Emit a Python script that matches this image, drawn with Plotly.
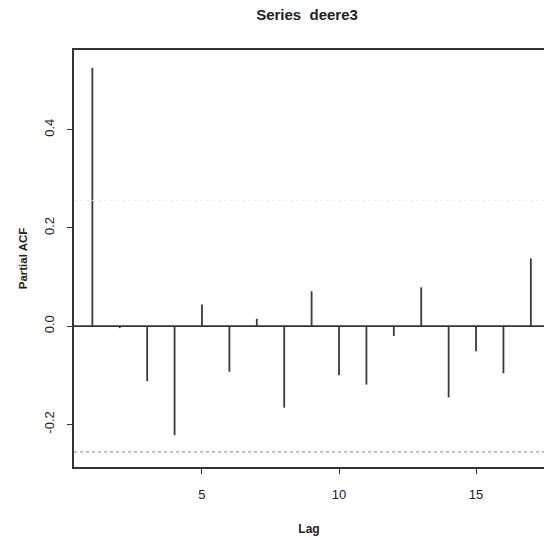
import plotly.graph_objects as go

# Data (PACF of series deere3)
lags = list(range(1, 18))
pacf_values = [0.526, -0.004, -0.112, -0.222, 0.044, -0.093, 0.015, -0.166,
               0.071, -0.100, -0.119, -0.020, 0.079, -0.145, -0.051, -0.096, 0.138]
ci = 0.256
x_ticks = [5, 10, 15]
y_ticks = [-0.2, 0.0, 0.2, 0.4]
y_tick_labels = ["-0.2", "0.0", "0.2", "0.4"]

xs, ys = [], []
for lag, v in zip(lags, pacf_values):
    xs += [lag, lag, None]
    ys += [0, v, None]

fig = go.Figure()
fig.add_trace(go.Scatter(x=xs, y=ys, mode="lines",
                         line=dict(color="#3a3a3a", width=1.8),
                         hoverinfo="skip", showlegend=False))

fig.add_hline(y=0, line=dict(color="#333333", width=1.6))
fig.add_hline(y=-ci, line=dict(color="#9a9a9a", width=1.2, dash="dot"))
fig.add_hline(y=ci, line=dict(color="#ececec", width=1.0, dash="dot"))

font_family = "Liberation Sans, Arial, sans-serif"

fig.update_layout(
    width=544, height=538,
    margin=dict(l=74, r=0, t=50, b=71),
    paper_bgcolor="white", plot_bgcolor="white",
    title=dict(text="<b>Series  deere3</b>", x=307 / 544, xanchor="center",
               y=1 - 15 / 538, yanchor="middle",
               font=dict(family=font_family, size=15, color="#222222")),
    font=dict(family=font_family, size=12, color="#222222"),
)

fig.update_xaxes(
    range=[0.33, 17.48], tickvals=x_ticks, ticktext=[str(t) for t in x_ticks],
    showgrid=False, zeroline=False,
    showline=True, linecolor="#333333", linewidth=2, mirror=True,
    ticks="outside", ticklen=5, tickcolor="#333333", tickwidth=1.2,
    ticklabelstandoff=9,
    tickfont=dict(family=font_family, size=13, color="#222222"),
    title=dict(text="<b>Lag</b>", standoff=24,
               font=dict(family=font_family, size=12, color="#222222")),
)

fig.update_yaxes(
    range=[-0.2868, 0.5623], tickvals=y_ticks, ticktext=y_tick_labels,
    tickangle=-90,
    showgrid=False, zeroline=False,
    showline=True, linecolor="#333333", linewidth=2, mirror=False,
    ticks="outside", ticklen=5, tickcolor="#333333", tickwidth=1.2,
    ticklabelstandoff=8,
    tickfont=dict(family=font_family, size=13, color="#222222"),
    title=dict(text="<b>Partial ACF</b>", standoff=12,
               font=dict(family=font_family, size=11.5, color="#222222")),
)

fig.write_html("out.html")
